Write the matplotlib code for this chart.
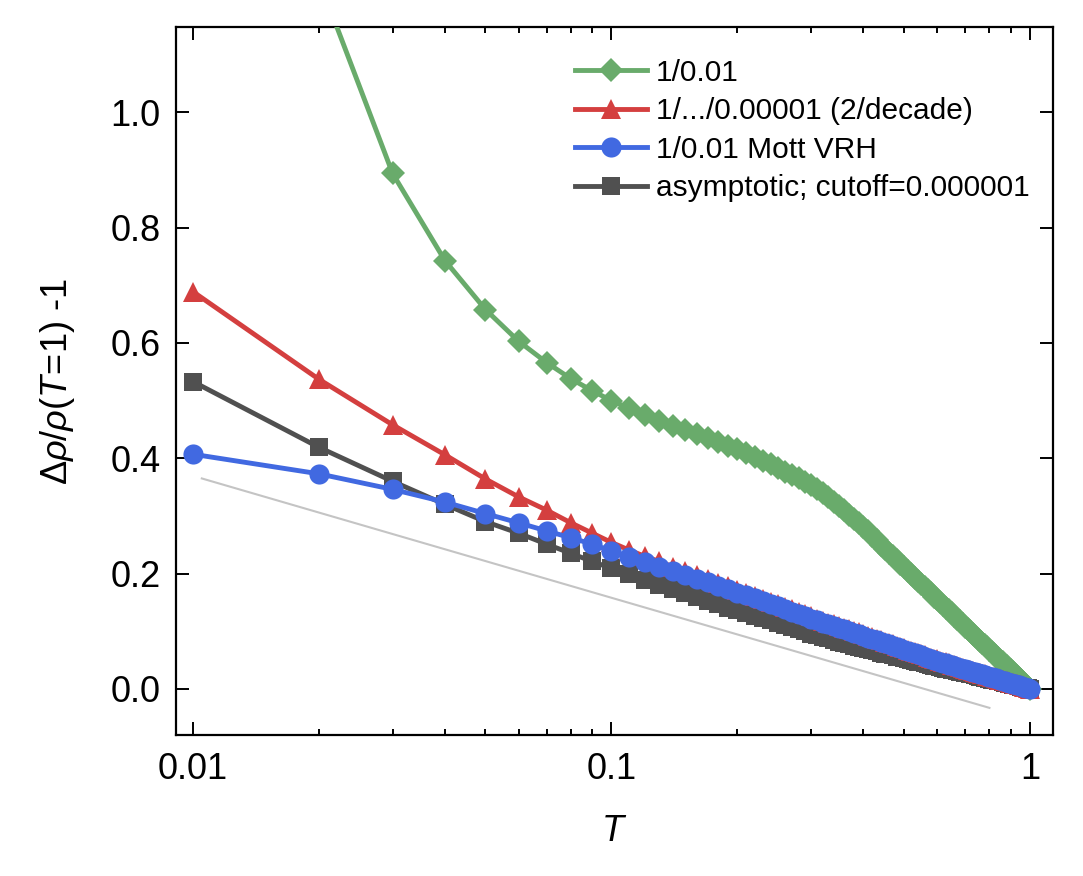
import numpy as np
import matplotlib
matplotlib.use("Agg")
import matplotlib.pyplot as plt
from matplotlib.ticker import FixedLocator, FixedFormatter, LogLocator, NullFormatter

# Temperature grid (0.01 ... 1.00)
T = [
    0.01, 0.02, 0.03, 0.04, 0.05, 0.06, 0.07, 0.08, 0.09, 0.10,
    0.11, 0.12, 0.13, 0.14, 0.15, 0.16, 0.17, 0.18, 0.19, 0.20,
    0.21, 0.22, 0.23, 0.24, 0.25, 0.26, 0.27, 0.28, 0.29, 0.30,
    0.31, 0.32, 0.33, 0.34, 0.35, 0.36, 0.37, 0.38, 0.39, 0.40,
    0.41, 0.42, 0.43, 0.44, 0.45, 0.46, 0.47, 0.48, 0.49, 0.50,
    0.51, 0.52, 0.53, 0.54, 0.55, 0.56, 0.57, 0.58, 0.59, 0.60,
    0.61, 0.62, 0.63, 0.64, 0.65, 0.66, 0.67, 0.68, 0.69, 0.70,
    0.71, 0.72, 0.73, 0.74, 0.75, 0.76, 0.77, 0.78, 0.79, 0.80,
    0.81, 0.82, 0.83, 0.84, 0.85, 0.86, 0.87, 0.88, 0.89, 0.90,
    0.91, 0.92, 0.93, 0.94, 0.95, 0.96, 0.97, 0.98, 0.99, 1.00,
]

# 1/0.01
green_vals = [
    2.100, 1.230, 0.894, 0.743, 0.658, 0.603, 0.566, 0.538, 0.517, 0.500,
    0.487, 0.475, 0.465, 0.456, 0.449, 0.442, 0.435, 0.428, 0.421, 0.416,
    0.409, 0.403, 0.396, 0.390, 0.383, 0.377, 0.371, 0.365, 0.359, 0.353,
    0.346, 0.339, 0.332, 0.324, 0.317, 0.310, 0.302, 0.295, 0.288, 0.280,
    0.273, 0.265, 0.258, 0.250, 0.243, 0.236, 0.230, 0.223, 0.217, 0.211,
    0.205, 0.199, 0.193, 0.187, 0.182, 0.176, 0.171, 0.166, 0.160, 0.155,
    0.150, 0.145, 0.140, 0.136, 0.131, 0.126, 0.122, 0.117, 0.113, 0.108,
    0.104, 0.100, 0.096, 0.092, 0.087, 0.083, 0.079, 0.076, 0.072, 0.068,
    0.064, 0.060, 0.057, 0.053, 0.049, 0.046, 0.042, 0.039, 0.035, 0.032,
    0.029, 0.025, 0.022, 0.019, 0.016, 0.012, 0.009, 0.006, 0.003, 0.000,
]

# 1/.../0.00001 (2/decade)
red_vals = [
    0.689, 0.537, 0.458, 0.406, 0.364, 0.333, 0.310, 0.288, 0.270, 0.254,
    0.241, 0.230, 0.221, 0.212, 0.204, 0.197, 0.190, 0.184, 0.178, 0.172,
    0.166, 0.161, 0.156, 0.151, 0.147, 0.142, 0.138, 0.134, 0.130, 0.126,
    0.122, 0.118, 0.115, 0.112, 0.109, 0.106, 0.103, 0.100, 0.098, 0.095,
    0.092, 0.090, 0.087, 0.085, 0.082, 0.080, 0.077, 0.075, 0.072, 0.070,
    0.068, 0.066, 0.064, 0.062, 0.060, 0.058, 0.056, 0.054, 0.052, 0.051,
    0.049, 0.047, 0.046, 0.044, 0.042, 0.041, 0.039, 0.038, 0.036, 0.035,
    0.033, 0.032, 0.031, 0.030, 0.028, 0.027, 0.026, 0.025, 0.023, 0.022,
    0.021, 0.020, 0.019, 0.017, 0.016, 0.015, 0.014, 0.013, 0.012, 0.011,
    0.010, 0.009, 0.008, 0.007, 0.006, 0.005, 0.004, 0.003, 0.001, 0.000,
]

# 1/0.01 Mott VRH
blue_vals = [
    0.407, 0.373, 0.346, 0.324, 0.304, 0.288, 0.274, 0.262, 0.251, 0.239,
    0.229, 0.220, 0.212, 0.205, 0.198, 0.191, 0.185, 0.179, 0.173, 0.167,
    0.162, 0.157, 0.152, 0.147, 0.143, 0.138, 0.134, 0.130, 0.126, 0.122,
    0.119, 0.115, 0.112, 0.109, 0.106, 0.103, 0.100, 0.097, 0.095, 0.092,
    0.089, 0.087, 0.084, 0.082, 0.079, 0.077, 0.075, 0.072, 0.070, 0.068,
    0.066, 0.064, 0.062, 0.060, 0.058, 0.056, 0.054, 0.052, 0.050, 0.049,
    0.047, 0.045, 0.044, 0.042, 0.041, 0.039, 0.038, 0.036, 0.035, 0.034,
    0.032, 0.031, 0.030, 0.029, 0.027, 0.026, 0.025, 0.024, 0.022, 0.021,
    0.020, 0.019, 0.018, 0.017, 0.016, 0.014, 0.013, 0.012, 0.011, 0.010,
    0.009, 0.008, 0.007, 0.006, 0.005, 0.004, 0.003, 0.002, 0.001, 0.000,
]

# asymptotic; cutoff=0.000001
black_vals = [
    0.533, 0.419, 0.360, 0.320, 0.290, 0.270, 0.251, 0.235, 0.221, 0.209,
    0.199, 0.189, 0.180, 0.173, 0.166, 0.159, 0.153, 0.147, 0.141, 0.136,
    0.132, 0.127, 0.123, 0.119, 0.115, 0.111, 0.108, 0.104, 0.100, 0.096,
    0.093, 0.090, 0.088, 0.085, 0.082, 0.080, 0.078, 0.075, 0.073, 0.071,
    0.069, 0.067, 0.065, 0.063, 0.061, 0.060, 0.058, 0.056, 0.055, 0.053,
    0.052, 0.050, 0.049, 0.047, 0.046, 0.044, 0.043, 0.042, 0.040, 0.039,
    0.038, 0.037, 0.035, 0.034, 0.033, 0.032, 0.031, 0.030, 0.029, 0.028,
    0.027, 0.026, 0.025, 0.024, 0.023, 0.021, 0.020, 0.019, 0.018, 0.017,
    0.016, 0.016, 0.015, 0.014, 0.013, 0.012, 0.011, 0.010, 0.009, 0.008,
    0.007, 0.007, 0.006, 0.005, 0.004, 0.003, 0.002, 0.002, 0.001, 0.000,
]

# thin grey guide line
guide_T = [0.0105, 0.8]
guide_vals = [0.365, -0.033]

labels = [
    "1/0.01",
    "1/.../0.00001 (2/decade)",
    "1/0.01 Mott VRH",
    "asymptotic; cutoff=0.000001",
]
x_ticks = [0.01, 0.1, 1]
x_ticklabels = ["0.01", "0.1", "1"]
y_ticks = [0.0, 0.2, 0.4, 0.6, 0.8, 1.0]

plt.rcParams["font.family"] = ["Liberation Sans", "DejaVu Sans"]
plt.rcParams["mathtext.fontset"] = "custom"
plt.rcParams["mathtext.rm"] = "Liberation Sans"
plt.rcParams["mathtext.it"] = "Liberation Sans:italic"


def make_plot():
    fig = plt.figure(figsize=(10.83, 8.76), dpi=100)
    ax = fig.add_axes([0.1625, 0.161, 0.8098, 0.8081])

    ax.plot(guide_T, guide_vals, color="#c4c4c4", lw=1.5, zorder=1)

    lw = 3.5
    h_black, = ax.plot(T, black_vals, color="#505050", lw=lw, marker="s", ms=12.5,
                       markeredgewidth=0, label=labels[3], zorder=2)
    h_green, = ax.plot(T, green_vals, color="#69ab6b", lw=lw, marker="D", ms=12,
                       markeredgewidth=0, label=labels[0], zorder=3)
    h_red, = ax.plot(T, red_vals, color="#d43f3f", lw=lw, marker="^", ms=15,
                     markeredgewidth=0, label=labels[1], zorder=4)
    h_blue, = ax.plot(T, blue_vals, color="#4169e1", lw=lw, marker="o", ms=14.5,
                      markeredgewidth=0, label=labels[2], zorder=5)

    ax.set_xscale("log")
    ax.set_xlim(0.00911, 1.135)
    ax.set_ylim(-0.08, 1.148)

    ax.xaxis.set_major_locator(FixedLocator(x_ticks))
    ax.xaxis.set_major_formatter(FixedFormatter(x_ticklabels))
    ax.xaxis.set_minor_locator(LogLocator(base=10, subs=np.arange(2, 10)))
    ax.xaxis.set_minor_formatter(NullFormatter())
    ax.set_yticks(y_ticks)
    ax.set_yticklabels([f"{v:.1f}" for v in y_ticks])

    ax.tick_params(which="both", direction="in", top=True, right=True, width=1.4)
    ax.tick_params(which="major", length=9.4)
    ax.tick_params(which="minor", length=4.5)
    ax.tick_params(axis="x", which="major", labelsize=26, pad=12)
    ax.tick_params(axis="y", which="major", labelsize=26, pad=11)
    for sp in ax.spines.values():
        sp.set_linewidth(1.6)

    ax.set_xlabel(r"$T$", fontsize=26, labelpad=20)
    ax.set_ylabel(r"$\Delta\rho/\rho(T\!=\!1)$ -1", fontsize=26, labelpad=24)

    ax.legend(handles=[h_green, h_red, h_blue, h_black], loc="upper left",
              bbox_to_anchor=(0.455, 0.955), frameon=False, fontsize=21.5,
              borderpad=0, borderaxespad=0, handlelength=2.4, handletextpad=0.3,
              labelspacing=0.35)

    fig.savefig("out.png", dpi=100)
    plt.close(fig)


if __name__ == "__main__":
    make_plot()
